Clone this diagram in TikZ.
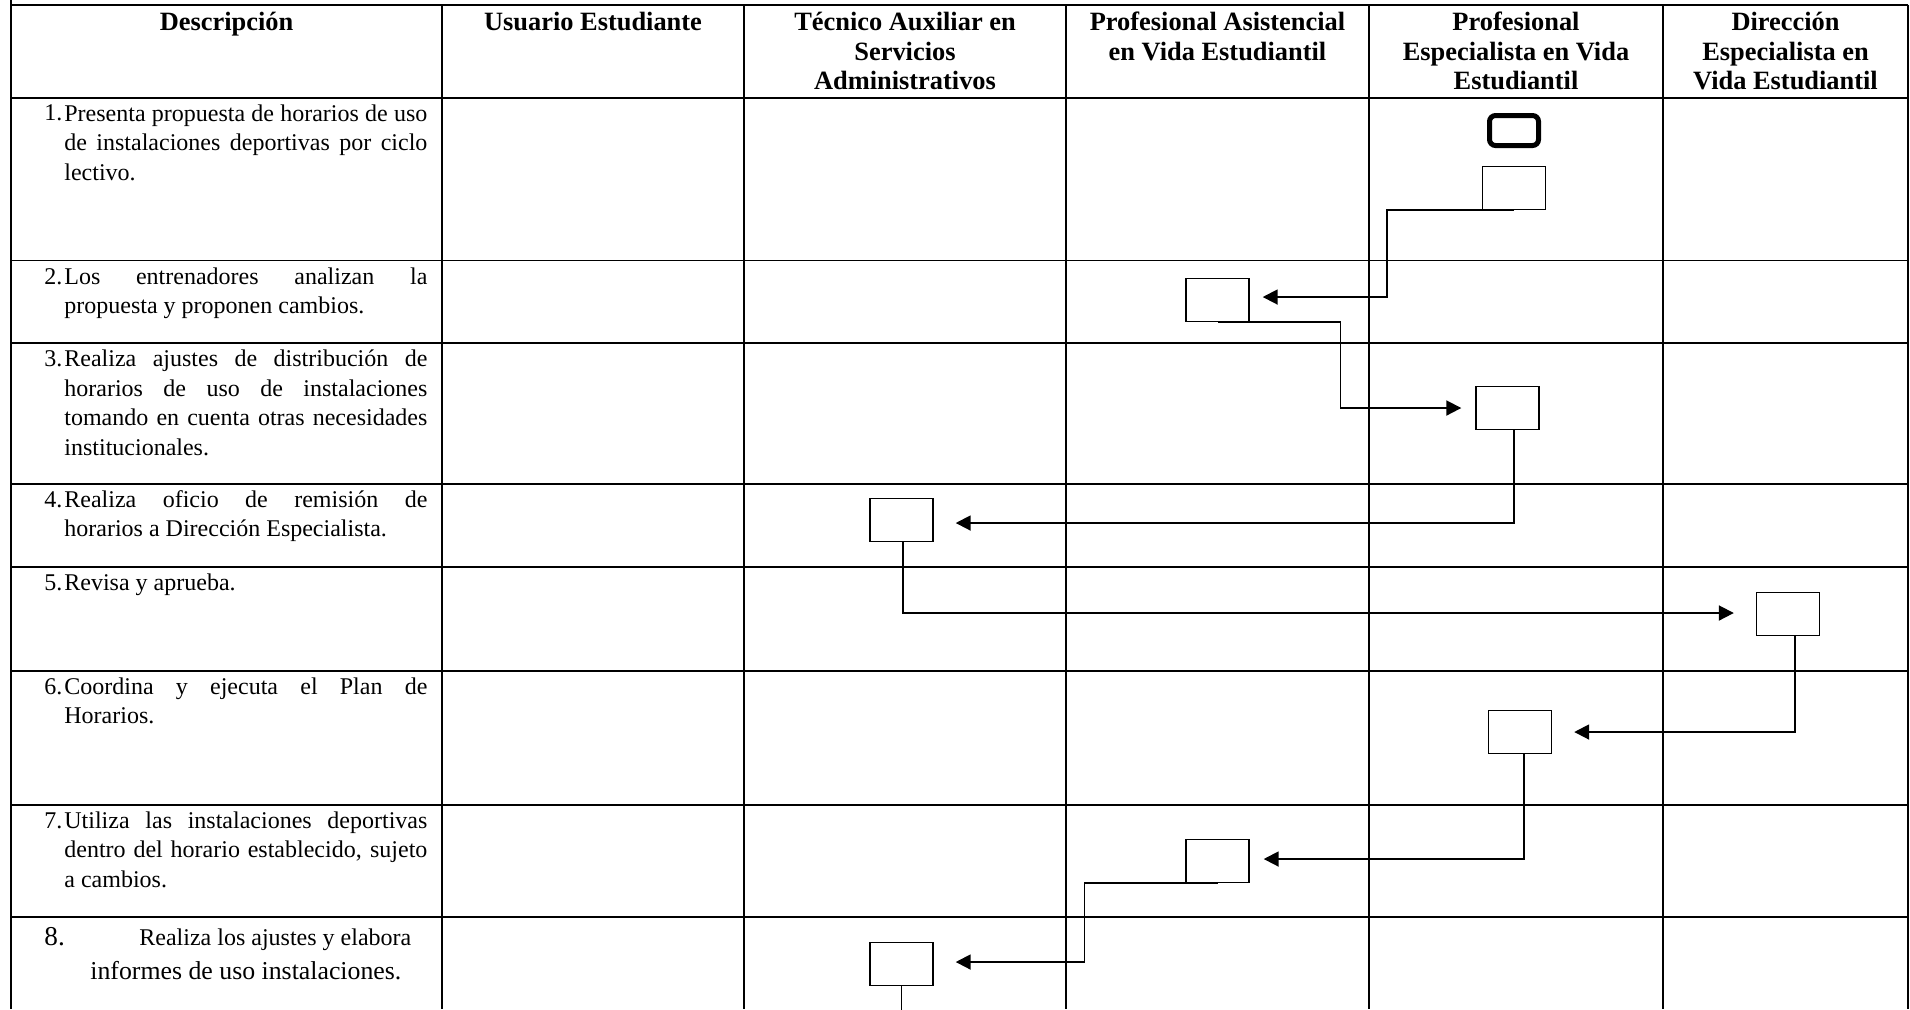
\documentclass[tikz,border=0pt]{standalone}
\usepackage{fontspec}
\setmainfont{Liberation Serif}
\usetikzlibrary{arrows.meta,calc}
\begin{document}
\begin{tikzpicture}[x=0.5pt,y=-0.5pt,
  hline/.style={line width=0.9pt},
  vline/.style={line width=0.7pt},
  head/.style={font=\fontsize{13.2}{14.85}\selectfont\bfseries, align=center, anchor=north, inner sep=0pt},
  num/.style={font=\fontsize{12}{14.75}\selectfont, anchor=base west, inner sep=0pt},
  desc/.style={font=\fontsize{12}{14.75}\selectfont, text width=181.5pt, align=justify, anchor=north west, inner sep=0pt,
    execute at begin node={\parindent=0pt\tolerance=10000\hyphenpenalty=10000\exhyphenpenalty=10000}},
  act/.style={draw, line width=0.7pt, minimum width=31.5pt, minimum height=21.5pt, inner sep=0pt},
  startbox/.style={draw, line width=2.5pt, rounded corners=3pt, minimum width=24.5pt, minimum height=15pt, inner sep=0pt},
  conn/.style={line width=0.95pt},
  arr/.style={conn, -{Triangle[length=7.5pt,width=7.5pt]}}
]
\useasboundingbox (0,0) rectangle (1910,1009);
\fill[white] (0,0) rectangle (1910,1009);

% table grid
\draw[hline] (11,4.7) -- (1908.3,4.7);
\foreach \yy in {97.7,260.5,343.3,484,567,671,805,917}
  \draw[hline] (11,\yy) -- (1908.3,\yy);
\draw[hline] (11,0) -- (11,1009);
\draw[hline] (1908.3,4.7) -- (1908.3,1009);
\foreach \xx in {442,744,1066,1369,1663}
  \draw[vline] (\xx,4.7) -- (\xx,1009);

% headers
\node[head] (h1) at (226.5,9.2) {\strut Descripción};
\node[head] (h2) at (593,9.2) {\strut Usuario Estudiante};
\node[head] (h3) at (905,9.2) {\strut Técnico Auxiliar en\\Servicios\\Administrativos};
\node[head] (h4) at (1217.5,9.2) {\strut Profesional Asistencial\\en Vida Estudiantil};
\node[head] (h5) at (1516,9.2) {\strut Profesional\\Especialista en Vida\\Estudiantil};
\node[head] (h6) at (1785.5,9.2) {\strut Dirección\\Especialista en\\Vida Estudiantil};

% descriptions
\node[num] (n1) at (44,120.7) {1.};
\node[desc] (d1) at (64,100.05) {\strut Presenta propuesta de horarios de uso\linebreak de instalaciones deportivas por ciclo\linebreak lectivo.};
\node[num] (n2) at (44,284) {2.};
\node[desc] (d2) at (64,263.35) {\strut Los entrenadores analizan la\linebreak propuesta y proponen cambios.};
\node[num] (n3) at (44,366.5) {3.};
\node[desc] (d3) at (64,345.85) {\strut Realiza ajustes de distribución de\linebreak horarios de uso de instalaciones\linebreak tomando en cuenta otras necesidades\linebreak institucionales.};
\node[num] (n4) at (44,507) {4.};
\node[desc] (d4) at (64,486.35) {\strut Realiza oficio de remisión de\linebreak horarios a Dirección Especialista.};
\node[num] (n5) at (44,590) {5.};
\node[desc] (d5) at (64,569.35) {\strut Revisa y aprueba.};
\node[num] (n6) at (44,694) {6.};
\node[desc] (d6) at (64,673.35) {\strut Coordina y ejecuta el Plan de\linebreak Horarios.};
\node[num] (n7) at (44,828) {7.};
\node[desc] (d7) at (64,807.35) {\strut Utiliza las instalaciones deportivas\linebreak dentro del horario establecido, sujeto\linebreak a cambios.};
\node[num, font=\fontsize{13.6}{14.75}\selectfont] (n8) at (44,945) {8.};
\node[num] (d8a) at (139,945) {Realiza los ajustes y elabora};
\node[num, font=\fontsize{12.9}{14.75}\selectfont] (d8b) at (90,979) {informes de uso instalaciones.};

% flow shapes
\node[startbox] (S) at (1514,130.5) {};
\node[act] (A) at (1514,188) {};
\node[act] (B) at (1217.5,300) {};
\node[act] (C) at (1507.5,408) {};
\node[act] (D) at (901.5,520) {};
\node[act] (E) at (1788,614) {};
\node[act] (F) at (1520,732) {};
\node[act] (G) at (1217.5,861) {};
\node[act] (H) at (901.5,964) {};
\coordinate (bottom) at (0,1012);

% connectors
\draw[arr] (A.south) -- ++(-127,0) |- ($(B.east)+(13,-3)$);
\draw[arr] (B.south) -- ++(123,0) |- ($(C.west)+(-14,0)$);
\draw[arr] ($(C.south)+(6.5,0)$) |- ($(D.east)+(22,3)$);
\draw[arr] ($(D.south)+(1.5,0)$) |- ($(E.west)+(-22,-1)$);
\draw[arr] ($(E.south)+(7,0)$) |- ($(F.east)+(22,0)$);
\draw[arr] ($(F.south)+(4,0)$) |- ($(G.east)+(14,-2)$);
\draw[arr] (G.south) -- ++(-133,0) |- ($(H.east)+(22,-2)$);
\draw[conn] (H.south) -- (H.south |- bottom);
\end{tikzpicture}
\end{document}
